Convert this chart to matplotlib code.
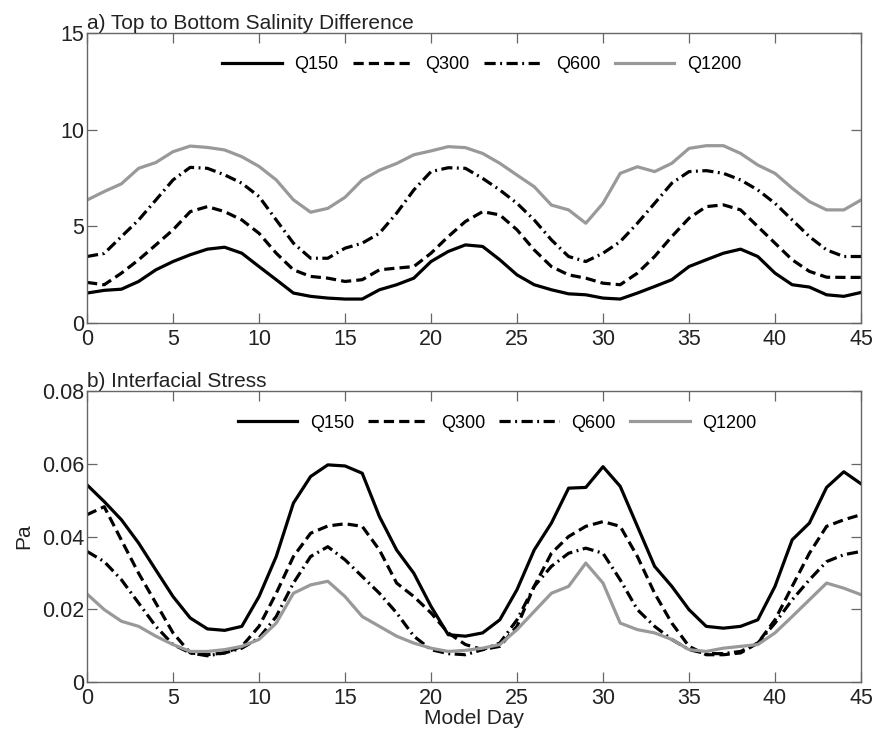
import numpy as np
import matplotlib
matplotlib.use("Agg")
import matplotlib.pyplot as plt

plt.rcParams['font.family'] = ['Liberation Sans', 'DejaVu Sans']

days = np.arange(0, 46)

# a) top to bottom salinity difference
sal_q150 = [1.55, 1.69, 1.75, 2.15, 2.75, 3.18, 3.53, 3.82, 3.92, 3.61,
            2.92, 2.24, 1.55, 1.38, 1.29, 1.24, 1.24, 1.72, 1.98, 2.32,
            3.18, 3.70, 4.04, 3.96, 3.27, 2.49, 1.98, 1.72, 1.51, 1.46,
            1.29, 1.24, 1.55, 1.89, 2.24, 2.92, 3.27, 3.61, 3.82, 3.44,
            2.58, 1.98, 1.86, 1.46, 1.38, 1.58]
sal_q300 = [2.10, 1.98, 2.58, 3.27, 4.04, 4.82, 5.76, 6.02, 5.76, 5.33,
            4.64, 3.61, 2.75, 2.41, 2.32, 2.15, 2.24, 2.75, 2.84, 2.92,
            3.61, 4.47, 5.25, 5.76, 5.59, 4.82, 3.78, 2.92, 2.49, 2.32,
            2.06, 1.98, 2.58, 3.44, 4.47, 5.42, 6.02, 6.11, 5.85, 4.99,
            4.13, 3.27, 2.67, 2.37, 2.36, 2.36]
sal_q600 = [3.44, 3.60, 4.47, 5.33, 6.36, 7.40, 8.05, 8.00, 7.66, 7.23,
            6.54, 5.33, 4.13, 3.35, 3.35, 3.87, 4.13, 4.64, 5.68, 6.88,
            7.83, 8.03, 8.00, 7.48, 6.88, 6.19, 5.33, 4.30, 3.44, 3.18,
            3.61, 4.21, 5.16, 6.19, 7.23, 7.83, 7.88, 7.74, 7.40, 6.88,
            6.19, 5.33, 4.47, 3.78, 3.44, 3.44]
sal_q1200 = [6.36, 6.80, 7.20, 8.00, 8.30, 8.86, 9.15, 9.08, 8.95, 8.60,
             8.10, 7.40, 6.37, 5.73, 5.93, 6.50, 7.40, 7.90, 8.25, 8.70,
             8.90, 9.12, 9.07, 8.77, 8.26, 7.65, 7.05, 6.10, 5.85, 5.16,
             6.19, 7.74, 8.08, 7.83, 8.26, 9.03, 9.17, 9.17, 8.77, 8.17,
             7.74, 6.97, 6.28, 5.85, 5.85, 6.36]

# b) interfacial stress (Pa)
tau_q150 = [0.0542, 0.0496, 0.0446, 0.0382, 0.0308, 0.0235, 0.0176, 0.0146, 0.0142, 0.0153,
            0.0235, 0.0345, 0.0492, 0.0565, 0.0597, 0.0594, 0.0574, 0.0455, 0.0363, 0.0299,
            0.0208, 0.0130, 0.0126, 0.0135, 0.0171, 0.0254, 0.0363, 0.0437, 0.0533, 0.0535,
            0.0592, 0.0538, 0.0428, 0.0318, 0.0263, 0.0199, 0.0153, 0.0148, 0.0153, 0.0171,
            0.0263, 0.0391, 0.0437, 0.0535, 0.0578, 0.0545]
tau_q300 = [0.0460, 0.0482, 0.0390, 0.0299, 0.0217, 0.0135, 0.0080, 0.0075, 0.0080, 0.0098,
            0.0153, 0.0244, 0.0345, 0.0409, 0.0429, 0.0435, 0.0428, 0.0363, 0.0272, 0.0235,
            0.0190, 0.0135, 0.0103, 0.0089, 0.0098, 0.0153, 0.0263, 0.0354, 0.0400, 0.0428,
            0.0441, 0.0428, 0.0345, 0.0244, 0.0162, 0.0098, 0.0075, 0.0075, 0.0080, 0.0107,
            0.0171, 0.0263, 0.0354, 0.0428, 0.0446, 0.0460]
tau_q600 = [0.0359, 0.0331, 0.0281, 0.0217, 0.0153, 0.0103, 0.0080, 0.0072, 0.0080, 0.0093,
            0.0121, 0.0180, 0.0272, 0.0345, 0.0372, 0.0336, 0.0290, 0.0244, 0.0190, 0.0126,
            0.0089, 0.0078, 0.0075, 0.0089, 0.0107, 0.0171, 0.0263, 0.0318, 0.0354, 0.0368,
            0.0354, 0.0281, 0.0199, 0.0153, 0.0117, 0.0089, 0.0078, 0.0078, 0.0084, 0.0107,
            0.0162, 0.0226, 0.0281, 0.0331, 0.0350, 0.0359]
tau_q1200 = [0.0242, 0.0199, 0.0167, 0.0153, 0.0126, 0.0103, 0.0084, 0.0084, 0.0089, 0.0098,
             0.0117, 0.0162, 0.0244, 0.0267, 0.0277, 0.0235, 0.0180, 0.0153, 0.0126, 0.0107,
             0.0093, 0.0084, 0.0087, 0.0093, 0.0103, 0.0144, 0.0194, 0.0244, 0.0263, 0.0327,
             0.0272, 0.0162, 0.0144, 0.0135, 0.0117, 0.0089, 0.0084, 0.0093, 0.0098, 0.0103,
             0.0135, 0.0180, 0.0226, 0.0272, 0.0258, 0.0240]

labels = ['Q150', 'Q300', 'Q600', 'Q1200']
styles = [dict(color='black', ls='-'),
          dict(color='black', ls=(0, (3.2, 1.6))),
          dict(color='black', ls=(0, (3.5, 1.4, 0.6, 1.4))),
          dict(color='#999999', ls='-')]

fig = plt.figure(figsize=(8.8, 7.32), dpi=100)
ax1 = fig.add_axes([0.0989, 0.5587, 0.8795, 0.3963])
ax2 = fig.add_axes([0.0989, 0.0683, 0.8795, 0.3975])

txt = '#222222'


def style_axes(ax):
    for s in ax.spines.values():
        s.set_color('#666666')
        s.set_linewidth(1.0)
    ax.tick_params(direction='in', length=7, width=0.9, color='#666666',
                   top=True, right=True, labelsize=15.5, labelcolor=txt)
    ax.tick_params(axis='y', pad=2)
    ax.tick_params(axis='x', pad=4)
    ax.set_xlim(0, 45)
    ax.set_xticks(np.arange(0, 46, 5))


def add_legend(ax, xc):
    ax.legend(loc='upper center', bbox_to_anchor=(xc, 0.975), ncol=4, frameon=False,
              fontsize=13, handlelength=3.3, columnspacing=0.8, handletextpad=0.7)


for series, lab, st in zip([sal_q150, sal_q300, sal_q600, sal_q1200], labels, styles):
    ax1.plot(days, series, lw=2.3, label=lab, solid_joinstyle='round', **st)
style_axes(ax1)
ax1.set_ylim(0, 15)
ax1.set_yticks([0, 5, 10, 15])
ax1.set_title('a) Top to Bottom Salinity Difference', loc='left', fontsize=15,
              pad=3, color=txt)
add_legend(ax1, 0.51)

for series, lab, st in zip([tau_q150, tau_q300, tau_q600, tau_q1200], labels, styles):
    ax2.plot(days, series, lw=2.3, label=lab, solid_joinstyle='round', **st)
style_axes(ax2)
ax2.set_ylim(0, 0.08)
ax2.set_yticks([0, 0.02, 0.04, 0.06, 0.08])
ax2.set_yticklabels(['0', '0.02', '0.04', '0.06', '0.08'])
ax2.set_title('b) Interfacial Stress', loc='left', fontsize=15, pad=3, color=txt)
ax2.set_ylabel('Pa', fontsize=15, color=txt, labelpad=6)
ax2.set_xlabel('Model Day', fontsize=15, color=txt, labelpad=0)
add_legend(ax2, 0.53)

fig.savefig('out.png', dpi=100)
